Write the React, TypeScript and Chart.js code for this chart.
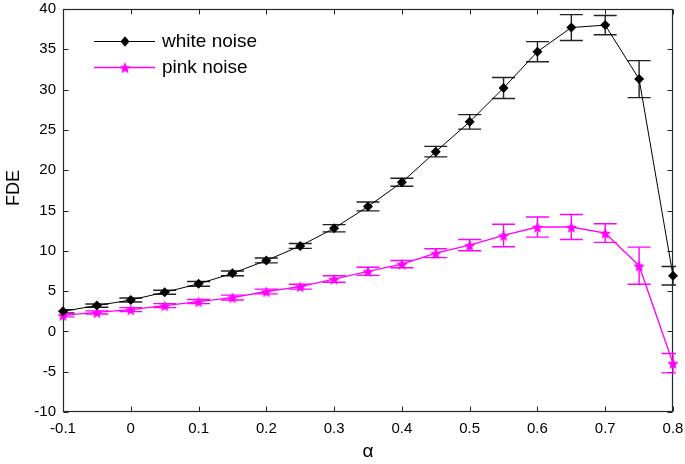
import React, { useEffect, useRef } from "react";
import { Chart, registerables } from "chart.js";
Chart.register(...registerables);

const alphas = [-0.1, -0.05, 0, 0.05, 0.1, 0.15, 0.2, 0.25, 0.3, 0.35, 0.4, 0.45, 0.5, 0.55, 0.6, 0.65, 0.7, 0.75, 0.8];
const whiteNoise = [2.5, 3.2, 3.9, 4.85, 5.9, 7.2, 8.8, 10.6, 12.8, 15.5, 18.5, 22.3, 26.0, 30.2, 34.7, 37.7, 38.0, 31.3, 6.9];
const whiteErr = [0.2, 0.2, 0.25, 0.25, 0.3, 0.3, 0.3, 0.3, 0.45, 0.55, 0.5, 0.65, 0.9, 1.3, 1.25, 1.6, 1.2, 2.3, 1.15];
const pinkNoise = [2.0, 2.35, 2.7, 3.2, 3.7, 4.2, 4.95, 5.55, 6.5, 7.45, 8.35, 9.7, 10.7, 11.9, 12.95, 12.95, 12.2, 8.15, -3.95];
const pinkErr = [0.2, 0.2, 0.25, 0.25, 0.25, 0.3, 0.3, 0.3, 0.4, 0.5, 0.45, 0.55, 0.7, 1.4, 1.25, 1.55, 1.15, 2.3, 1.2];
const seriesLabels = ["white noise", "pink noise"];
const xTicks = [-0.1, 0, 0.1, 0.2, 0.3, 0.4, 0.5, 0.6, 0.7, 0.8];
const xTickLabels = ["-0.1", "0", "0.1", "0.2", "0.3", "0.4", "0.5", "0.6", "0.7", "0.8"];
const yTicks = [-10, -5, 0, 5, 10, 15, 20, 25, 30, 35, 40];
const yTickLabels = ["-10", "-5", "0", "5", "10", "15", "20", "25", "30", "35", "40"];
const xTitle = "α";
const yTitle = "FDE";

const FONT = "'Liberation Sans', Arial, sans-serif";
const WHITE_COLOR = "#000000";
const PINK_COLOR = "#ff00ff";

function makeStar(r: number, color: string): HTMLCanvasElement {
  const c = document.createElement("canvas");
  const s = Math.ceil(r * 2 + 2);
  c.width = s;
  c.height = s;
  const g = c.getContext("2d")!;
  g.fillStyle = color;
  g.beginPath();
  for (let k = 0; k < 10; k++) {
    const rad = k % 2 === 0 ? r : r * 0.45;
    const ang = -Math.PI / 2 + (k * Math.PI) / 5;
    g.lineTo(s / 2 + rad * Math.cos(ang), s / 2 + 0.8 + rad * Math.sin(ang));
  }
  g.closePath();
  g.fill();
  return c;
}

function drawDiamond(ctx: CanvasRenderingContext2D, cx: number, cy: number, r: number, color: string) {
  ctx.fillStyle = color;
  ctx.beginPath();
  ctx.moveTo(cx, cy - r * 1.05);
  ctx.lineTo(cx + r * 0.9, cy);
  ctx.lineTo(cx, cy + r * 1.05);
  ctx.lineTo(cx - r * 0.9, cy);
  ctx.closePath();
  ctx.fill();
}

export default function App() {
  const ref = useRef<HTMLCanvasElement | null>(null);

  useEffect(() => {
    const canvas = ref.current;
    if (!canvas) return;
    const star = makeStar(6, PINK_COLOR);

    const errorSets = [
      { values: whiteNoise, errs: whiteErr, color: "#222222" },
      { values: pinkNoise, errs: pinkErr, color: PINK_COLOR },
    ];

    const framePlugin = {
      id: "frameAndErrors",
      beforeDatasetsDraw(chart: any) {
        const { ctx, chartArea: a, scales } = chart;
        const xs = scales.x;
        const ys = scales.y;
        ctx.save();
        ctx.strokeStyle = "#262626";
        ctx.lineWidth = 1.2;
        const L = Math.round(a.left) + 0.5;
        const R = Math.round(a.right) - 0.5;
        const T = Math.round(a.top) + 0.5;
        const B = Math.round(a.bottom) - 0.5;
        ctx.strokeRect(L, T, R - L, B - T);
        ctx.lineWidth = 1;
        ctx.beginPath();
        xTicks.forEach((v) => {
          const px = Math.round(xs.getPixelForValue(v)) + 0.5;
          ctx.moveTo(px, B);
          ctx.lineTo(px, B - 5);
          ctx.moveTo(px, T);
          ctx.lineTo(px, T + 5);
        });
        yTicks.forEach((v) => {
          const py = Math.round(ys.getPixelForValue(v)) + 0.5;
          ctx.moveTo(L, py);
          ctx.lineTo(L + 5, py);
          ctx.moveTo(R, py);
          ctx.lineTo(R - 5, py);
        });
        ctx.stroke();

        ctx.beginPath();
        ctx.rect(a.left, a.top - 2, a.right - a.left + 3, a.bottom - a.top + 4);
        ctx.clip();
        ctx.lineWidth = 1.4;
        errorSets.forEach((set) => {
          ctx.strokeStyle = set.color;
          ctx.beginPath();
          alphas.forEach((xv, i) => {
            const px = xs.getPixelForValue(xv);
            const top = ys.getPixelForValue(set.values[i] + set.errs[i]);
            const bot = ys.getPixelForValue(set.values[i] - set.errs[i]);
            ctx.moveTo(px, top);
            ctx.lineTo(px, bot);
            ctx.moveTo(px - 11.5, top);
            ctx.lineTo(px + 11.5, top);
            ctx.moveTo(px - 11.5, bot);
            ctx.lineTo(px + 11.5, bot);
          });
          ctx.stroke();
        });
        ctx.restore();
      },
      afterDraw(chart: any) {
        const { ctx } = chart;
        ctx.save();
        const rows = [
          { y: 41, color: WHITE_COLOR, label: seriesLabels[0], kind: "diamond" },
          { y: 67, color: PINK_COLOR, label: seriesLabels[1], kind: "star" },
        ];
        rows.forEach((r) => {
          ctx.strokeStyle = r.color;
          ctx.lineWidth = r.kind === "star" ? 1.3 : 1;
          ctx.beginPath();
          ctx.moveTo(94, r.y + 0.5);
          ctx.lineTo(155, r.y + 0.5);
          ctx.stroke();
          if (r.kind === "diamond") drawDiamond(ctx, 125, r.y + 0.5, 5, r.color);
          else ctx.drawImage(star, 125 - star.width / 2, r.y + 0.5 - star.height / 2);
          ctx.fillStyle = "#000";
          ctx.font = `19px ${FONT}`;
          ctx.textAlign = "left";
          ctx.textBaseline = "middle";
          ctx.fillText(r.label, 162, r.y + 1);
        });
        ctx.fillStyle = "#000";
        ctx.font = `19px ${FONT}`;
        ctx.textAlign = "center";
        ctx.textBaseline = "middle";
        ctx.fillText(xTitle, 368, 452);
        ctx.translate(14, 188);
        ctx.rotate(-Math.PI / 2);
        ctx.font = `18px ${FONT}`;
        ctx.fillText(yTitle, 0, 0);
        ctx.restore();
      },
    };

    const chart = new Chart(canvas, {
      type: "line",
      data: {
        datasets: [
          {
            label: seriesLabels[0],
            data: alphas.map((x, i) => ({ x, y: whiteNoise[i] })),
            borderColor: WHITE_COLOR,
            backgroundColor: WHITE_COLOR,
            borderWidth: 1,
            pointStyle: "rectRot",
            pointRadius: 5,
            pointBorderWidth: 0,
            pointBackgroundColor: WHITE_COLOR,
            tension: 0,
            clip: false as any,
          },
          {
            label: seriesLabels[1],
            data: alphas.map((x, i) => ({ x, y: pinkNoise[i] })),
            borderColor: PINK_COLOR,
            backgroundColor: PINK_COLOR,
            borderWidth: 1.3,
            pointStyle: star as any,
            pointRadius: 6,
            tension: 0,
            clip: false as any,
          },
        ],
      },
      options: {
        animation: false,
        responsive: false,
        maintainAspectRatio: false,
        layout: { padding: { top: 9, right: 12, left: 0, bottom: 0 } },
        plugins: {
          legend: { display: false },
          tooltip: { enabled: false },
        },
        scales: {
          x: {
            type: "linear",
            min: -0.1,
            max: 0.8,
            grid: { display: false, drawTicks: false },
            border: { display: false },
            afterBuildTicks: (s: any) => {
              s.ticks = xTicks.map((v) => ({ value: v }));
            },
            afterFit: (s: any) => {
              s.height = 52;
              s.paddingLeft = 0;
              s.paddingRight = 0;
            },
            ticks: {
              autoSkip: false,
              maxRotation: 0,
              padding: 8,
              color: "#000",
              font: { family: FONT, size: 15 },
              callback: (_v: any, i: number) => xTickLabels[i],
            },
          },
          y: {
            type: "linear",
            min: -10,
            max: 40,
            grid: { display: false, drawTicks: false },
            border: { display: false },
            afterBuildTicks: (s: any) => {
              s.ticks = yTicks.map((v) => ({ value: v }));
            },
            afterFit: (s: any) => {
              s.width = 63;
              s.paddingTop = 0;
              s.paddingBottom = 0;
            },
            ticks: {
              autoSkip: false,
              padding: 7,
              color: "#000",
              font: { family: FONT, size: 15 },
              callback: (_v: any, i: number) => yTickLabels[i],
            },
          },
        },
      },
      plugins: [framePlugin as any],
    });
    return () => chart.destroy();
  }, []);

  return (
    <div style={{ position: "fixed", left: 0, top: 0, width: 685, height: 464, background: "#fff" }}>
      <canvas ref={ref} width={685} height={464} style={{ width: 685, height: 464, display: "block" }} />
    </div>
  );
}
